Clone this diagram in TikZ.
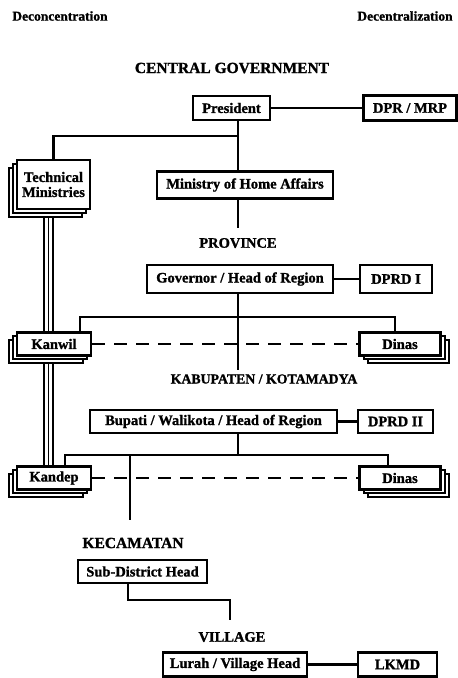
\documentclass[tikz,border=0pt]{standalone}
\usepackage{fontspec}
\setmainfont{Liberation Serif}[BoldFeatures={FakeBold=1.2}]
\usetikzlibrary{calc,backgrounds}

\begin{document}
\begin{tikzpicture}[x=1pt,y=-1pt,
  head/.style={font=\fontsize{14.5}{16}\selectfont\bfseries, inner sep=0pt},
  top/.style={font=\fontsize{13.5}{15}\selectfont\bfseries, inner sep=0pt},
  box/.style={draw, line width=2.3pt, fill=white,
    font=\fontsize{14.5}{15}\selectfont\bfseries, inner sep=1pt, align=center},
  % two sheets stacked behind a box, down-left or down-right
  leftstack/.style={
    preaction={draw, fill=white, line width=2pt, transform canvas={shift={(-8pt,-7.5pt)}}},
    preaction={draw, fill=white, line width=2pt, transform canvas={shift={(-4pt,-3.5pt)}}}},
  rightstack/.style={
    preaction={draw, fill=white, line width=2pt, transform canvas={shift={(8pt,-7pt)}}},
    preaction={draw, fill=white, line width=2pt, transform canvas={shift={(4pt,-3.5pt)}}}},
  conn/.style={line width=2.2pt},
  dashln/.style={line width=2.2pt, dash pattern=on 13pt off 9pt},
  rail/.style={line width=1.3pt}
]
\useasboundingbox (0,0) rectangle (458,678);

% column headings
\node[top] (deconc) at (60,16) {Deconcentration};
\node[top] (decent) at (405,16) {Decentralization};

% central government
\node[head, font=\fontsize{15.5}{17}\selectfont\bfseries] (cg) at (232,68) {CENTRAL GOVERNMENT};
\node[box, minimum width=77, minimum height=24] (pres) at (231.5,108) {President};
\node[box, minimum width=93, minimum height=25] (dpr) at (410,108) {DPR / MRP};
\node[box, leftstack, minimum width=73, minimum height=49] (tech) at (53.5,184.5) {Technical\\Ministries};
\node[box, minimum width=176, minimum height=27] (mha) at (245,185) {Ministry of Home Affairs};

% province
\node[head] (prov) at (238,243) {PROVINCE};
\node[box, minimum width=186, minimum height=28] (gov) at (240,279) {Governor / Head of Region};
\node[box, minimum width=72, minimum height=28] (dprd1) at (396,279) {DPRD I};
\node[box, leftstack, minimum width=74, minimum height=23] (kanwil) at (54,344) {Kanwil};
\node[box, rightstack, minimum width=81, minimum height=23] (dinas1) at (400,344) {Dinas};

% kabupaten / kotamadya
\node[head, font=\fontsize{13.8}{15}\selectfont\bfseries] (kab) at (264,379) {KABUPATEN / KOTAMADYA};
\node[box, minimum width=247, minimum height=23] (bup) at (213.5,421.5) {Bupati / Walikota / Head of Region};
\node[box, minimum width=75, minimum height=23] (dprd2) at (395.5,421.5) {DPRD II};
\node[box, leftstack, minimum width=74, minimum height=23] (kandep) at (54,478) {Kandep};
\node[box, rightstack, minimum width=81, minimum height=23] (dinas2) at (400,478) {Dinas};

% kecamatan and village
\node[head, font=\fontsize{15.5}{17}\selectfont\bfseries] (kec) at (133,543) {KECAMATAN};
\node[box, minimum width=129, minimum height=23] (subd) at (142.5,571.5) {Sub-District Head};
\node[head] (vil) at (232,637) {VILLAGE};
\node[box, minimum width=144, minimum height=24] (lurah) at (235,664.5) {Lurah / Village Head};
\node[box, minimum width=79, minimum height=24] (lkmd) at (397.5,664.5) {LKMD};

% junction points
\coordinate (trunk) at (238,0);
\coordinate (j1) at (238,136);
\coordinate (provtop) at (238,228);
\coordinate (k1) at (80,317);
\coordinate (d1) at (395,317);
\coordinate (kabtop) at (238,370);
\coordinate (k2) at (65,455);
\coordinate (d2) at (388,455);
\coordinate (kc1) at (130,455);
\coordinate (kc2) at (130,520);
\coordinate (s1) at (128,600);
\coordinate (s2) at (230,600);
\coordinate (viltop) at (230,620);

% deconcentration rails behind the stacked boxes
\begin{pgfonlayer}{background}
  \foreach \d in {-9.5,-5,-0.5}
    \draw[rail] ($(tech.south)+(\d,0)$) -- ($(tech.south |- kandep.north)+(\d,0)$);
\end{pgfonlayer}

% central level
\draw[conn] (pres.east) -- (dpr.west);
\draw[conn] (pres.south -| trunk) -- (mha.north -| trunk);
\draw[conn] (j1) -| (tech.north);
\draw[conn] (mha.south -| trunk) -- (provtop);

% provincial level
\draw[conn] (gov.east) -- (dprd1.west);
\draw[conn] (gov.south -| trunk) -- (kabtop);
\draw[conn] (kanwil.north -| k1) -- (k1) -- (d1) -- (dinas1.north -| d1);
\draw[dashln] (kanwil.east) -- (dinas1.west);

% district level
\draw[conn] (bup.east) -- (dprd2.west);
\draw[conn] (bup.south -| trunk) -- (trunk |- k2);
\draw[conn] (kandep.north -| k2) -- (k2) -- (d2) -- (dinas2.north -| d2);
\draw[conn] (kc1) -- (kc2);
\draw[dashln] (kandep.east) -- (dinas2.west);

% sub-district and village
\draw[conn] (subd.south -| s1) -- (s1) -- (s2) -- (viltop);
\draw[conn] (lurah.east) -- (lkmd.west);
\end{tikzpicture}
\end{document}
